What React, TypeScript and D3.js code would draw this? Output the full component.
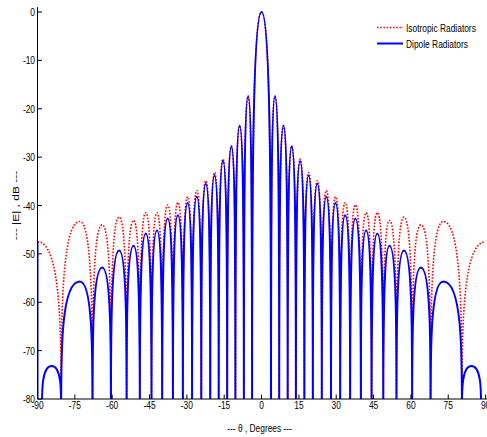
import React from "react";
import * as d3 from "d3";

// ---- data (angles in degrees, levels in dB) ----
const nullAngles = [
  -80.5, -67.9, -60.5, -54.2, -48.9, -44.2, -39.9, -35.6, -31.6, -27.9, -24.2, -20.6, -17.2,
  -13.8, -10.5, -7.1, -3.8, 3.8, 7.1, 10.5, 13.8, 17.2, 20.6, 24.2, 27.9, 31.6, 35.6, 39.9,
  44.2, 48.9, 54.2, 60.5, 67.9, 80.5,
];
const peakAngles = [
  -73, -64, -57.2, -51.4, -46.5, -42, -37.7, -33.6, -29.7, -26, -22.4, -18.9, -15.5, -12.1,
  -8.8, -5.4, 0, 5.4, 8.8, 12.1, 15.5, 18.9, 22.4, 26, 29.7, 33.6, 37.7, 42, 46.5, 51.4, 57.2,
  64, 73,
];
const isotropicPeaks = [
  -43.3, -44, -42.4, -43.1, -41.5, -41.5, -39.9, -39.4, -38.2, -36.9, -34.9, -33.2, -30.4,
  -27.7, -23.5, -17.4, 0, -17.4, -23.5, -27.7, -30.4, -33.2, -34.9, -36.9, -38.2, -39.4, -39.9,
  -41.5, -41.5, -43.1, -42.4, -44, -43.3,
];
const dipolePeaks = [
  -55.7, -52.8, -49.3, -48.3, -45.8, -45.1, -42.7, -42, -39.5, -38.2, -35.5, -33.8, -30.8,
  -27.8, -23.5, -17.4, 0, -17.4, -23.5, -27.8, -30.8, -33.8, -35.5, -38.2, -39.5, -42, -42.7,
  -45.1, -45.8, -48.3, -49.3, -52.8, -55.7,
];
const isotropicEdgeAngles = [-90, 90];
const isotropicEdgeDb = [-47.5, -47.5];
const dipoleOuterNulls = [-88.2, 88.2];
const dipoleOuterPeakAngles = [-84.3, 84.3];
const dipoleOuterPeakDb = [-73.2, -73.2];
const dipoleEdgeAngle = -90;
const dipoleEdgeDb = -47.5;

const xTicks = [-90, -75, -60, -45, -30, -15, 0, 15, 30, 45, 60, 75, 90];
const yTicks = [0, -10, -20, -30, -40, -50, -60, -70, -80];

const legendLabels = ["Isotropic Radiators", "Dipole Radiators"];
const xLabel = "--- \u03b8 , Degrees ---";
const yLabel = "--- |E| , dB ---";

// ---- layout ----
const W = 487;
const H = 437;
const X0 = 37.5;
const X1 = 485.6;
const Y0 = 12;
const Y1 = 399;
const SQ = 0.73; // horizontal squeeze of the reference text
const FONT = "'Liberation Sans', Arial, sans-serif";

const x = d3.scaleLinear().domain([-90, 90]).range([X0, X1]);
const y = d3.scaleLinear().domain([-80, 0]).range([Y1, Y0]);

type V = [number, number, "n" | "p"];

function lobePath(verts: V[], p = d3.path()) {
  const pts = verts.map(([a, db, k]) => ({ X: x(a), Y: k === "n" ? y(-82) : y(db), k }));
  p.moveTo(pts[0].X, pts[0].Y);
  for (let i = 1; i < pts.length; i++) {
    const A = pts[i - 1];
    const B = pts[i];
    if (A.k === "p" && B.k === "n") {
      const c = 0.55 * (B.Y - A.Y);
      p.bezierCurveTo(B.X, A.Y, B.X, A.Y + c, B.X, B.Y);
    } else if (A.k === "n" && B.k === "p") {
      const c = 0.55 * (A.Y - B.Y);
      p.bezierCurveTo(A.X, B.Y + c, A.X, B.Y, B.X, B.Y);
    } else {
      p.lineTo(B.X, B.Y);
    }
  }
  return p;
}

function interleave(peaksDb: number[]): V[] {
  const out: V[] = [];
  nullAngles.forEach((n, i) => {
    out.push([n, -80, "n"]);
    if (i < peakAngles.length) out.push([peakAngles[i], peaksDb[i], "p"]);
  });
  return out;
}

const isoVerts: V[] = [
  [isotropicEdgeAngles[0], isotropicEdgeDb[0], "p"],
  ...interleave(isotropicPeaks),
  [isotropicEdgeAngles[1], isotropicEdgeDb[1], "p"],
];
const isoPath = lobePath(isoVerts).toString();

const dipVerts: V[] = [
  [dipoleOuterNulls[0], -80, "n"],
  [dipoleOuterPeakAngles[0], dipoleOuterPeakDb[0], "p"],
  ...interleave(dipolePeaks),
  [dipoleOuterPeakAngles[1], dipoleOuterPeakDb[1], "p"],
  [dipoleOuterNulls[1], -80, "n"],
];
const dipP = d3.path();
dipP.moveTo(x(dipoleEdgeAngle), y(dipoleEdgeDb));
dipP.lineTo(x(dipoleEdgeAngle), y(-82));
const dipPath = lobePath(dipVerts, dipP).toString();

function SqText({ x: tx, y: ty, anchor, children, size = 11.5, rotate = 0 }: any) {
  return (
    <text
      transform={`translate(${tx},${ty}) scale(${SQ},1)${rotate ? ` rotate(${rotate})` : ""}`}
      textAnchor={anchor}
      fontFamily={FONT}
      fontSize={size}
      fill="#000"
    >
      {children}
    </text>
  );
}

export default function App() {
  return (
    <svg
      width={W}
      height={H}
      viewBox={`0 0 ${W} ${H}`}
      style={{ position: "absolute", left: 0, top: 0, background: "#fff" }}
    >
      <rect x={0} y={0} width={W} height={H} fill="#fff" />
      <defs>
        <clipPath id="plotClip">
          <rect x={X0} y={0} width={X1 - X0 + 2} height={Y1} />
        </clipPath>
      </defs>

      <g clipPath="url(#plotClip)">
        <path d={isoPath} fill="none" stroke="#ff0000" strokeWidth={1.6} strokeDasharray="1.6,1.6" />
        <path d={dipPath} fill="none" stroke="#0000ff" strokeWidth={2} strokeLinejoin="round" />
      </g>

      {/* axes */}
      <line x1={X0} x2={X0} y1={y(1)} y2={Y1} stroke="#000" strokeWidth={1} />
      <line x1={X0} x2={W} y1={Y1} y2={Y1} stroke="#000" strokeWidth={1} />

      {yTicks.map((t) => (
        <g key={"y" + t}>
          <line x1={X0} x2={X0 + 4.5} y1={y(t)} y2={y(t)} stroke="#000" strokeWidth={1} />
          <SqText x={35} y={y(t) + 4} anchor="end">
            {t}
          </SqText>
        </g>
      ))}
      {xTicks.map((t) => (
        <g key={"x" + t}>
          <line x1={x(t)} x2={x(t)} y1={Y1} y2={Y1 - 4.5} stroke="#000" strokeWidth={1} />
          <SqText x={x(t)} y={Y1 + 9.5} anchor="middle">
            {t}
          </SqText>
        </g>
      ))}

      <SqText x={(X0 + X1) / 2 - 2} y={432} anchor="middle">
        {xLabel}
      </SqText>
      <SqText x={19} y={(Y0 + Y1) / 2} anchor="middle" size={12} rotate={-90}>
        {yLabel}
      </SqText>

      {/* legend */}
      <line x1={377} x2={403} y1={27.5} y2={27.5} stroke="#ff0000" strokeWidth={1.6} strokeDasharray="1.6,1.6" />
      <SqText x={406} y={32} anchor="start">
        {legendLabels[0]}
      </SqText>
      <line x1={377} x2={403} y1={43.5} y2={43.5} stroke="#0000ff" strokeWidth={2} />
      <SqText x={406} y={48} anchor="start">
        {legendLabels[1]}
      </SqText>
    </svg>
  );
}
